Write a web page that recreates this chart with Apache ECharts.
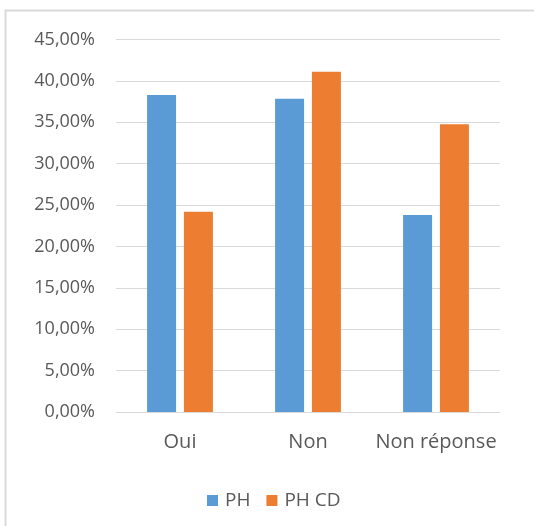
<!DOCTYPE html>
<html>
<head>
<meta charset="utf-8">
<script src="https://cdn.jsdelivr.net/npm/echarts@6/dist/echarts.min.js"></script>
<style>
  html, body { margin: 0; padding: 0; background: #fff; }
  #chart { width: 534px; height: 526px; }
</style>
</head>
<body>
<div id="chart"></div>
<script>
const categories = ["Oui", "Non", "Non réponse"];
const phValues = [38.3, 37.85, 23.8];
const phCdValues = [24.2, 41.1, 34.75];
const seriesNames = ["PH", "PH CD"];

const textColor = "#595959";
const fontFamily = "'Open Sans', sans-serif";

const chart = echarts.init(document.getElementById("chart"));

const option = {
  animation: false,
  textStyle: { fontFamily: fontFamily },
  graphic: [
    {
      // cadre gris coupé à droite et en bas
      type: "rect",
      shape: { x: 5.5, y: 10.5, width: 560, height: 560 },
      style: { fill: "none", stroke: "#d9d9d9", lineWidth: 2 },
      silent: true,
    },
  ],
  grid: {
    left: 116,
    right: 34,
    top: 39.5,
    bottom: 114,
    containLabel: false,
  },
  legend: {
    data: seriesNames,
    left: 202,
    top: 486,
    icon: "rect",
    itemWidth: 11,
    itemHeight: 11,
    itemGap: 16,
    textStyle: {
      color: textColor,
      fontSize: 19,
      fontFamily: fontFamily,
      padding: [0, 0, 0, 2],
    },
  },
  xAxis: {
    type: "category",
    data: categories,
    axisLine: { lineStyle: { color: "#d9d9d9", width: 1 } },
    axisTick: { show: false },
    axisLabel: {
      interval: 0,
      color: textColor,
      fontSize: 20,
      fontFamily: fontFamily,
      margin: 20,
    },
  },
  yAxis: {
    type: "value",
    min: 0,
    max: 45,
    interval: 5,
    axisLine: { show: false },
    axisTick: { show: false },
    splitLine: { lineStyle: { color: "#d9d9d9", width: 1 } },
    axisLabel: {
      color: textColor,
      fontSize: 18,
      fontFamily: fontFamily,
      margin: 21,
      formatter: (v) => v.toFixed(2).replace(".", ",") + "%",
    },
  },
  series: [
    {
      name: seriesNames[0],
      type: "bar",
      data: phValues,
      barWidth: 29,
      barGap: "27%",
      itemStyle: { color: "#5b9bd5" },
    },
    {
      name: seriesNames[1],
      type: "bar",
      data: phCdValues,
      barWidth: 29,
      barGap: "27%",
      itemStyle: { color: "#ed7d31" },
    },
  ],
};

chart.setOption(option);
</script>
</body>
</html>
